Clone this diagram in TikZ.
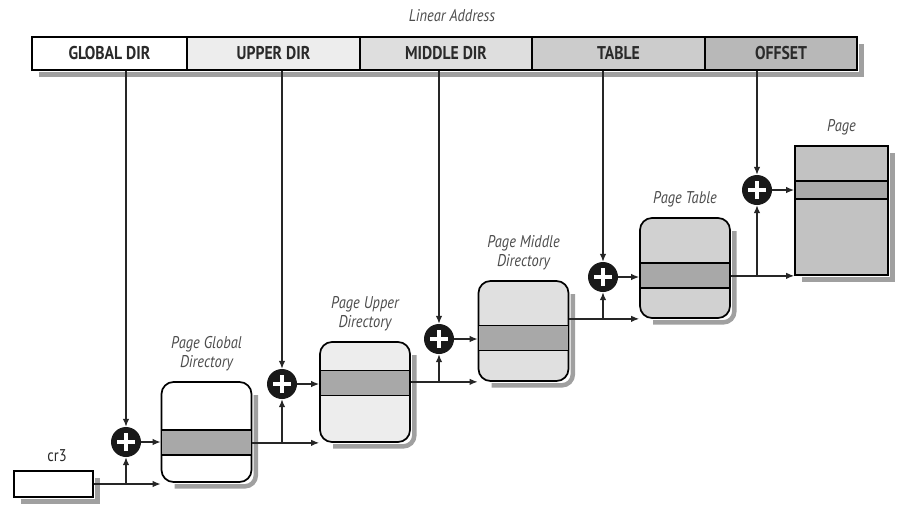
\documentclass[tikz,border=0pt]{standalone}
\usepackage{fontspec}
\setmainfont{PT Sans}[FakeStretch=0.85]
\usepackage{xcolor}
\usetikzlibrary{arrows.meta,positioning}

\definecolor{bandgray}{HTML}{A8A8A8}
\definecolor{inkgray}{HTML}{2A2A2A}
\definecolor{shadowgray}{HTML}{A0A0A0}

\tikzset{
  seg/.style={draw, line width=1.6pt, minimum height=33pt, inner sep=0pt, text=inkgray,
    font=\bfseries\fontsize{18.5}{18.5}\selectfont},
  tbl/.style={draw, line width=1.7pt, rounded corners=12pt, minimum width=90pt, minimum height=100pt,
    inner sep=0pt},
  band/.style={draw, line width=1.4pt, fill=bandgray, minimum width=90pt, minimum height=25pt, inner sep=0pt},
  adder/.style={circle, fill=black!90, minimum size=30pt, inner sep=0pt,
    path picture={
      \draw[white, line width=4.5pt] ([xshift=-9pt]path picture bounding box.center) -- ([xshift=9pt]path picture bounding box.center);
      \draw[white, line width=4.5pt] ([yshift=-9pt]path picture bounding box.center) -- ([yshift=9pt]path picture bounding box.center);
    }},
  lbl/.style={font=\itshape\fontsize{17}{19}\selectfont, align=center, text=black!70},
  conn/.style={line width=1.3pt, draw=black!85, -{Latex[length=8pt,width=6.5pt]}},
  shadowline/.style={draw=shadowgray, line width=4.5pt}
}

\begin{document}
\begin{tikzpicture}[x=1pt, y=-1pt]
  \useasboundingbox (0,0) rectangle (913,531);

  % Linear address bar
  \node[lbl] (la) at (452,16) {Linear Address};
  \node[seg, fill=white, minimum width=155pt] (gdir) at (109.5,53.5) {GLOBAL DIR};
  \node[seg, fill=black!7, minimum width=173pt] (udir) at (273.5,53.5) {UPPER DIR};
  \node[seg, fill=black!13, minimum width=172pt] (mdir) at (446,53.5) {MIDDLE DIR};
  \node[seg, fill=black!20, minimum width=173pt] (tdir) at (618.5,53.5) {TABLE};
  \node[seg, fill=black!28, minimum width=152pt] (odir) at (781,53.5) {OFFSET};

  % cr3 register
  \node[tbl, rounded corners=0pt, fill=white, minimum width=79pt, minimum height=26pt] (cr3) at (53.5,484) {};
  \node[font=\fontsize{17}{17}\selectfont, text=inkgray] (cr3lbl) at (57,456) {cr3};

  % Tables
  \node[tbl, fill=white] (pgd) at (206.5,432) {};
  \node[band] (pgdb) at (206.5,442.5) {};
  \node[lbl, above=7pt of pgd] (pgdlbl) {Page Global\\Directory};

  \node[tbl, fill=black!7] (pud) at (365,392) {};
  \node[band] (pudb) at (365,383) {};
  \node[lbl, above=7pt of pud] (pudlbl) {Page Upper\\Directory};

  \node[tbl, fill=black!12] (pmd) at (523.5,331) {};
  \node[band] (pmdb) at (523.5,338) {};
  \node[lbl, above=7pt of pmd] (pmdlbl) {Page Middle\\Directory};

  \node[tbl, fill=black!18] (pt) at (685,268) {};
  \node[band] (ptb) at (685,275.5) {};
  \node[lbl, above=7pt of pt] (ptlbl) {Page Table};

  % Page
  \node[tbl, rounded corners=0pt, fill=black!24, minimum width=93pt, minimum height=129pt] (page) at (841.5,210.5) {};
  \node[band, minimum width=93pt, minimum height=18pt] (pageb) at (841.5,190) {};
  \node[lbl, above=7pt of page] (pagelbl) {Page};

  % Shadows, right and below each box
  \draw[shadowline] ([shift={(3.5,8)}]odir.north east) -- ([shift={(3.5,3.5)}]odir.south east) -- ([shift={(8,3.5)}]gdir.south west);
  \draw[shadowline] ([shift={(3.5,8)}]cr3.north east) -- ([shift={(3.5,3.5)}]cr3.south east) -- ([shift={(8,3.5)}]cr3.south west);
  \draw[shadowline] ([shift={(3.5,8)}]page.north east) -- ([shift={(3.5,3.5)}]page.south east) -- ([shift={(8,3.5)}]page.south west);
  \foreach \tb in {pgd,pud,pmd,pt}
    \draw[shadowline, rounded corners=11pt] ([shift={(3.5,14)}]\tb.north east) -- ([shift={(3.5,3.5)}]\tb.south east) -- ([shift={(14,3.5)}]\tb.south west);

  % Adders
  \node[adder] (c1) at (126,442) {};
  \node[adder] (c2) at (282,384) {};
  \node[adder] (c3) at (439,339) {};
  \node[adder] (c4) at (603,277) {};
  \node[adder] (c5) at (757,190) {};

  % Fields down to the adders
  \draw[conn] (c1 |- gdir.south) -- (c1);
  \draw[conn] (c2 |- udir.south) -- (c2);
  \draw[conn] (c3 |- mdir.south) -- (c3);
  \draw[conn] (c4 |- tdir.south) -- (c4);
  \draw[conn] (c5 |- odir.south) -- (c5);

  % Base addresses
  \draw[conn] (cr3.east) -- (cr3.east -| pgd.west);
  \draw[conn] (cr3.east -| c1) -- (c1);
  \draw[conn] (pgd.east |- pud.south) -- (pud.south west);
  \draw[conn] (pud.south -| c2) -- (c2);
  \draw[conn] (pud.east |- pmd.south) -- (pmd.south west);
  \draw[conn] (pmd.south -| c3) -- (c3);
  \draw[conn] (pmd.east |- pt.south) -- (pt.south west);
  \draw[conn] (pt.south -| c4) -- (c4);
  \draw[conn] (pt.east |- page.south) -- (page.south west);
  \draw[conn] (page.south -| c5) -- (c5);

  % Adders into the tables
  \draw[conn] (c1) -- (c1 -| pgd.west);
  \draw[conn] (c2) -- (c2 -| pud.west);
  \draw[conn] (c3) -- (c3 -| pmd.west);
  \draw[conn] (c4) -- (c4 -| pt.west);
  \draw[conn] (c5) -- (c5 -| page.west);

\end{tikzpicture}
\end{document}
